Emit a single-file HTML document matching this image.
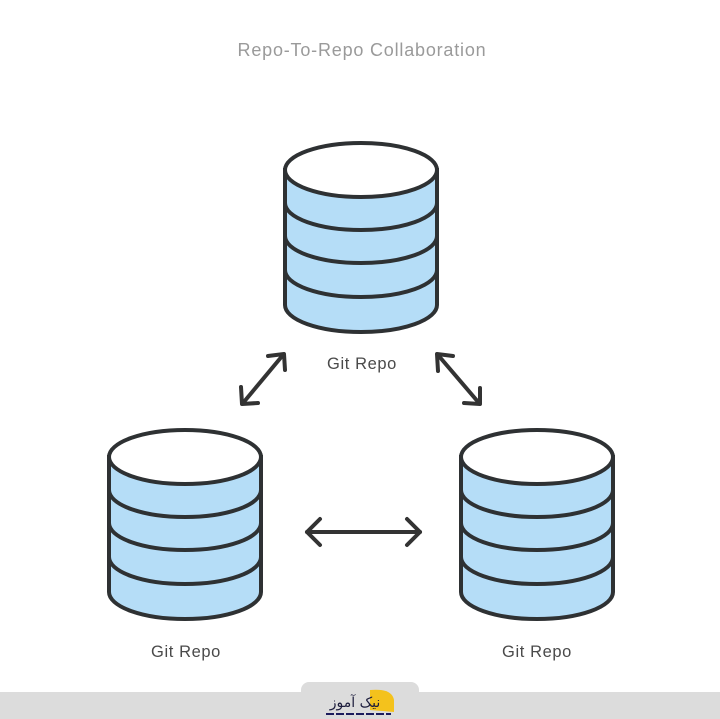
<!DOCTYPE html>
<html><head><meta charset="utf-8"><style>
html,body{margin:0;padding:0;background:#fff;}
svg{display:block;}
</style></head><body>
<svg width="720" height="719" viewBox="0 0 720 719" xmlns="http://www.w3.org/2000/svg">
<defs>
<g id="cyl">
 <path d="M-76,0 L-76,135 A76,27 0 0 0 76,135 L76,0 Z" fill="#b5ddf7" stroke="#2e3133" stroke-width="4"/>
 <path d="M-76,33 A76,27 0 0 0 76,33" fill="none" stroke="#2e3133" stroke-width="4"/>
 <path d="M-76,66 A76,27 0 0 0 76,66" fill="none" stroke="#2e3133" stroke-width="4"/>
 <path d="M-76,100 A76,27 0 0 0 76,100" fill="none" stroke="#2e3133" stroke-width="4"/>
 <ellipse cx="0" cy="0" rx="76" ry="27" fill="#fff" stroke="#2e3133" stroke-width="4"/>
</g>
</defs>
<text x="362" y="56" text-anchor="middle" font-family="Liberation Sans, sans-serif" font-size="18" fill="#9a9a9a" letter-spacing="0.8">Repo-To-Repo Collaboration</text>
<use href="#cyl" x="361" y="170"/>
<use href="#cyl" x="185" y="457"/>
<use href="#cyl" x="537" y="457"/>
<g font-family="Liberation Sans, sans-serif" font-size="16.5" fill="#4a4a4a" text-anchor="middle" letter-spacing="0.6">
<text x="362" y="369">Git Repo</text>
<text x="186" y="657">Git Repo</text>
<text x="537" y="657">Git Repo</text>
</g>
<g stroke="#333" stroke-width="4" fill="none" stroke-linecap="round" stroke-linejoin="round">
 <line x1="283" y1="355" x2="243" y2="403"/>
 <polyline points="268,356 284,354 285,370"/>
 <polyline points="241,387 242,404 258,403"/>
 <line x1="438" y1="355" x2="479" y2="403"/>
 <polyline points="438,371 437,354 453,356"/>
 <polyline points="464,403 480,404 480,388"/>
 <line x1="307" y1="532" x2="420" y2="532"/>
 <polyline points="320,519 307,532 320,545"/>
 <polyline points="407,519 420,532 407,545"/>
</g>
<rect x="0" y="692" width="720" height="27" fill="#dcdcdc"/>
<rect x="301" y="682" width="118" height="37" rx="8" fill="#dcdcdc"/>
<path d="M370,710 L370,690 Q392,688 394,700 L394,712 Z" fill="#f4c21c"/>
<text x="355" y="707" text-anchor="middle" font-family="DejaVu Sans, sans-serif" font-size="14" fill="#1c1c3c">نیک آموز</text>
<line x1="326" y1="714" x2="391" y2="714" stroke="#1c1c5c" stroke-width="2" stroke-dasharray="8,2"/>
</svg>
</body></html>
